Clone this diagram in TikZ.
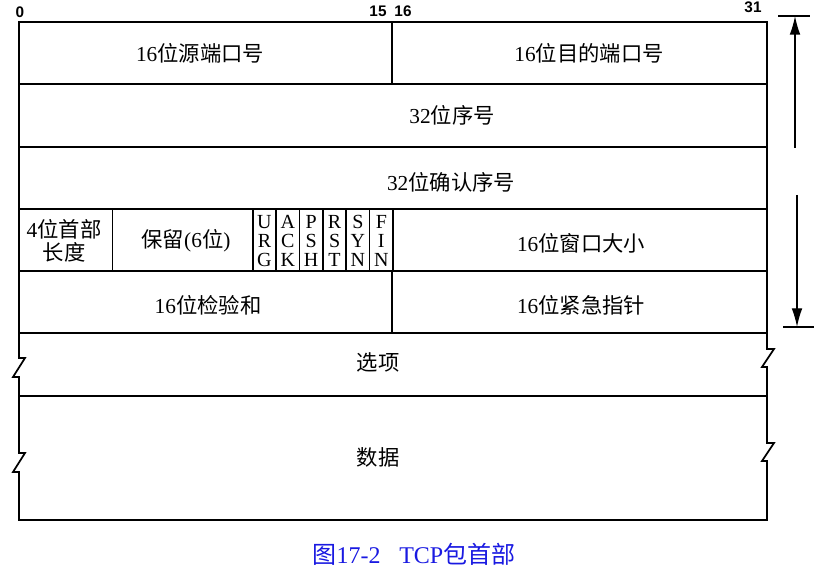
\documentclass[tikz,border=0pt]{standalone}
\usepackage{fontspec}
\setmainfont{Liberation Serif}
\setsansfont{Liberation Sans}
\newfontfamily\cjk{Noto Sans CJK SC}
\usetikzlibrary{arrows.meta}
\definecolor{capblue}{RGB}{25,25,225}

\begin{document}
\begin{tikzpicture}[x=0.75pt,y=-0.75pt,
		frame/.style={line width=1.3pt},
		field/.style={font=\fontsize{16}{16}\selectfont, inner sep=0pt, align=center},
		flag/.style={font=\fontsize{15}{14}\selectfont, inner sep=0pt, align=center},
		bitno/.style={font=\sffamily\bfseries\fontsize{11.5}{12}\selectfont, inner sep=0pt},
		dim/.style={line width=1pt, -{Latex[length=14pt,width=8pt]}}]
		\useasboundingbox (0,0) rectangle (827,580);
		% outline, with breaks on both sides of options and data
		\draw[frame] (19,22) -- (767,22) -- (767,349) -- (774,349) -- (762,367) -- (767,367)
			-- (767,443) -- (774,443) -- (762,461) -- (767,461) -- (767,520) -- (19,520)
			-- (19,472) -- (13,472) -- (25,453) -- (19,453) -- (19,377) -- (13,377)
			-- (25,358) -- (19,358) -- cycle;
		\foreach \y in {84,147,209,271,333,396}
			\draw[frame] (19,\y) -- (767,\y);
		\draw[frame] (392,22) -- (392,84);
		\draw[frame] (392,271) -- (392,333);
		\foreach \b in {4,10,11,12,13,14,15,16}
			\draw[frame] ({19+23.375*\b},209) -- ({19+23.375*\b},271);
		% bit numbers
		\node[bitno] (b0) at (20,12) {0};
		\node[bitno] (b15) at (378,11) {15};
		\node[bitno] (b16) at (403,11) {16};
		\node[bitno] (b31) at (753,7) {31};
		% fields
		\node[field] (srcport) at (200,53) {16{\cjk 位源端口号}};
		\node[field] (dstport) at (589,53) {16{\cjk 位目的端口号}};
		\node[field] (seq) at (452,115) {32{\cjk 位序号}};
		\node[field] (ack) at (451,182) {32{\cjk 位确认序号}};
		\node[field, font=\fontsize{16}{17}\selectfont] (hlen) at (64,241) {4{\cjk 位首部}\\{\cjk 长度}};
		\node[field] (resv) at (186,241) {{\cjk 保留}(6{\cjk 位})};
		\foreach \f [count=\i from 10] in {U\\R\\G,A\\C\\K,P\\S\\H,R\\S\\T,S\\Y\\N,F\\I\\N}
			\node[flag] (flag\i) at ({19+23.375*(\i+0.5)},241) {\f};
		\node[field] (window) at (581,243) {16{\cjk 位窗口大小}};
		\node[field] (cksum) at (208,305) {16{\cjk 位检验和}};
		\node[field] (urgent) at (581,305) {16{\cjk 位紧急指针}};
		\node[field] (options) at (378,362) {{\cjk 选项}};
		\node[field] (data) at (378,457) {{\cjk 数据}};
		% header length arrow
		\draw[line width=1pt] (778,16) -- (810,16);
		\draw[line width=1pt] (783,327) -- (814,327);
		\coordinate (hdtop) at (795,16);
		\coordinate (hdbot) at (797,327);
		\coordinate (gaptop) at (795,148);
		\coordinate (gapbot) at (797,195);
		\draw[dim] (gaptop) -- (hdtop);
		\draw[dim] (gapbot) -- (hdbot);
		% caption
		\node[text=capblue, font=\fontsize{18}{20}\selectfont, inner sep=0pt] (caption) at (414,554)
			{{\cjk 图}17-2\hspace{14pt}TCP{\cjk 包首部}};
\end{tikzpicture}
\end{document}
